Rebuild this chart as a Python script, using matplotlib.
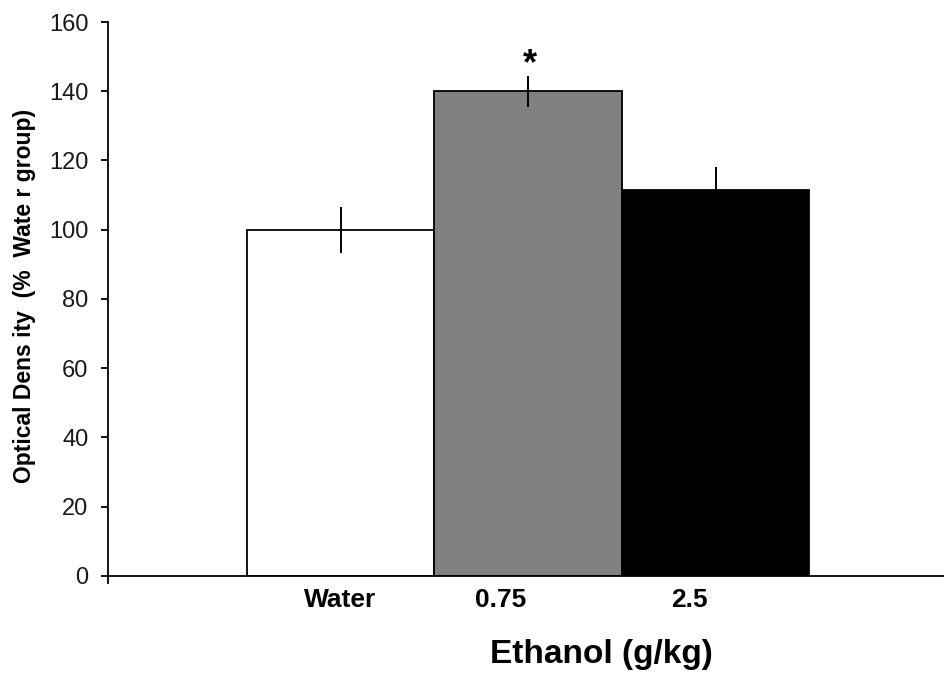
import matplotlib
matplotlib.use("Agg")
import matplotlib.pyplot as plt

groups = ["Water", "0.75", "2.5"]
values = [100, 140, 111.5]
errors = [6.6, 4.5, 6.7]
colors = ["#ffffff", "#808080", "#000000"]
yticks = [0, 20, 40, 60, 80, 100, 120, 140, 160]

plt.rcParams['font.family'] = ['Liberation Sans', 'DejaVu Sans']

fig = plt.figure(figsize=(9.45, 6.77), dpi=100)
ax = fig.add_axes([0.1143, 0.1492, 0.884, 0.8183])

xpos = list(range(len(groups)))
ax.bar(xpos, values, width=1.0, color=colors, edgecolor="black", linewidth=1.3, zorder=2)
ax.errorbar(xpos, values, yerr=errors, fmt="none", ecolor="black", elinewidth=1.4, capsize=0, zorder=3)

ax.set_xlim(-1.24, 3.214)
ax.set_ylim(0, 160)
ax.set_yticks(yticks)
ax.set_yticklabels([str(t) for t in yticks], fontsize=17, color="#1a1a1a")
ax.tick_params(axis="y", direction="out", length=5, width=1.3, pad=9)

label_pos = [0, 0.853, 1.86]
ax.set_xticks(label_pos)
ax.set_xticklabels(groups, fontsize=19, fontweight="bold")
ax.tick_params(axis="x", length=0, pad=9)
ax.set_xticks([-1.24], minor=True)
ax.tick_params(axis="x", which="minor", length=6, width=1.3, direction="out")

for s in ["top", "right"]:
    ax.spines[s].set_visible(False)
for s in ["left", "bottom"]:
    ax.spines[s].set_linewidth(1.3)

ax.set_ylabel("Optical Dens ity  (%  Wate r group)", fontsize=16.5, fontweight="bold")
ax.yaxis.set_label_coords(-0.086, 0.505)

fig.text(601 / 945, 1 - 654 / 677, "Ethanol (g/kg)", ha="center", va="center",
         fontsize=24, fontweight="bold")

ax.text(1.01, values[1] + errors[1] + 3.2, "*", ha="center", va="center", fontsize=26, fontweight="bold")

fig.savefig("out.png", dpi=100)
